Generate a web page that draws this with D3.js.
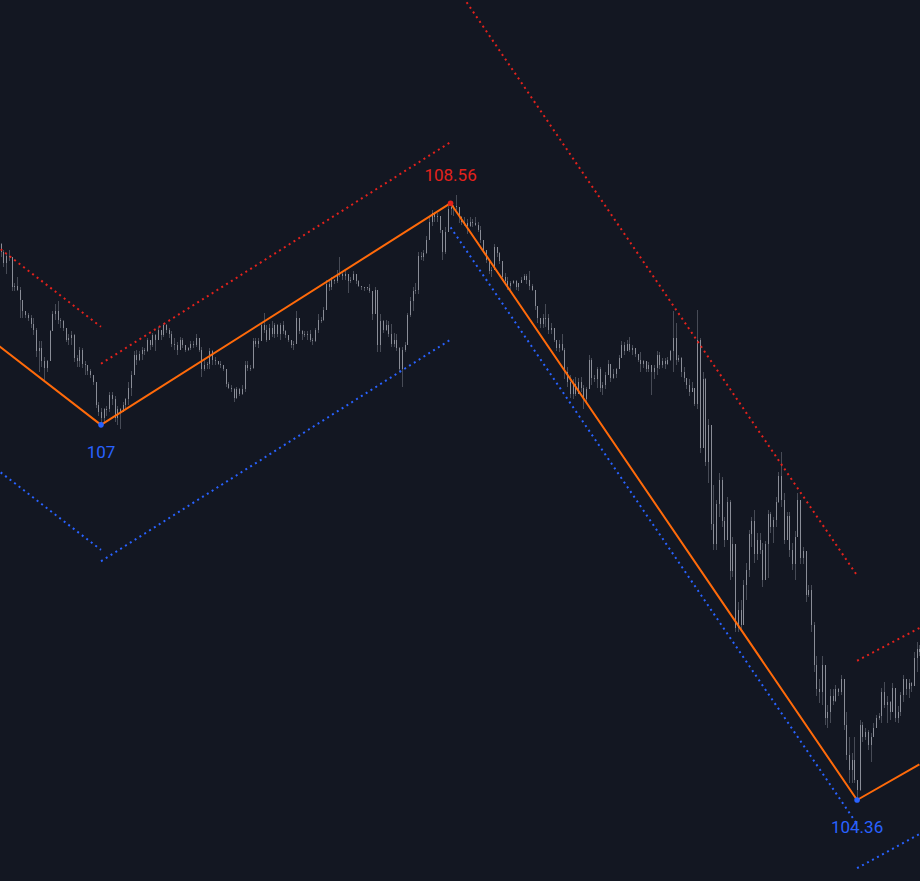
<!DOCTYPE html>
<html><head><meta charset="utf-8">
<script src="https://cdn.jsdelivr.net/npm/d3@7"></script>
<style>html,body{margin:0;padding:0;background:#131722;overflow:hidden}</style>
</head><body><svg id="chart" width="920" height="881"></svg>
<script>
// ---------- DATA ----------
const firstOpen = 108.27;
const highs = [
108.28,108.23,108.21,108.23,108.18,108.00,108.04,107.97,107.86,107.80,
107.79,107.77,107.75,107.68,107.59,107.59,107.48,107.46,107.67,107.80,
107.85,107.87,107.75,107.74,107.68,107.64,107.66,107.64,107.49,107.55,
107.54,107.45,107.42,107.39,107.35,107.30,107.16,107.12,107.12,107.13,
107.23,107.23,107.20,107.13,107.12,107.16,107.19,107.30,107.38,107.52,
107.53,107.52,107.55,107.54,107.61,107.60,107.65,107.64,107.69,107.67,
107.72,107.71,107.68,107.66,107.61,107.58,107.62,107.61,107.56,107.55,
107.59,107.59,107.64,107.61,107.55,107.46,107.44,107.54,107.53,107.48,
107.45,107.45,107.42,107.39,107.30,107.28,107.26,107.27,107.26,107.28,
107.45,107.45,107.42,107.61,107.61,107.61,107.72,107.79,107.70,107.71,
107.73,107.72,107.71,107.72,107.73,107.67,107.63,107.60,107.59,107.80,
107.75,107.67,107.66,107.66,107.67,107.61,107.68,107.78,107.76,107.83,
108.02,108.02,108.04,108.03,108.09,108.18,108.08,108.08,108.06,108.04,
108.08,108.06,108.02,107.98,107.97,107.97,107.99,107.94,107.97,107.95,
107.78,107.74,107.74,107.73,107.71,107.65,107.64,107.55,107.55,107.58,
107.79,107.90,107.97,108.00,108.22,108.22,108.23,108.33,108.46,108.51,
108.50,108.49,108.47,108.37,108.39,108.54,108.56,108.55,108.62,108.53,
108.47,108.46,108.45,108.46,108.45,108.46,108.43,108.40,108.30,108.23,
108.16,108.11,108.27,108.25,108.22,108.15,108.07,108.04,108.01,108.02,
108.02,108.00,108.04,108.06,108.06,108.08,107.99,107.95,107.84,107.75,
107.78,107.85,107.78,107.72,107.68,107.60,107.60,107.64,107.54,107.41,
107.35,107.32,107.34,107.33,107.34,107.28,107.27,107.49,107.47,107.35,
107.41,107.41,107.30,107.37,107.46,107.43,107.39,107.40,107.49,107.59,
107.58,107.60,107.62,107.56,107.54,107.50,107.51,107.46,107.45,107.44,
107.42,107.42,107.52,107.51,107.47,107.47,107.48,107.53,107.80,107.72,
107.49,107.48,107.41,107.30,107.32,107.30,107.26,107.81,107.61,107.37,
107.33,107.04,107.00,106.58,106.47,106.66,106.63,106.35,106.49,106.47,
106.21,106.16,105.75,105.77,105.91,106.03,106.26,106.35,106.40,106.24,
106.24,106.17,106.18,106.40,106.39,106.35,106.49,106.67,106.81,106.52,
106.39,106.39,106.17,106.25,106.52,106.47,106.14,106.11,105.87,105.87,
105.61,105.37,105.21,105.37,105.31,105.03,105.14,105.14,105.17,105.15,
105.24,105.21,104.98,104.80,104.69,104.80,104.50,104.92,104.91,104.87,
104.85,104.83,104.90,104.96,104.97,105.15,105.19,105.09,105.06,105.18,
105.15,105.02,105.12,105.24,105.21,105.21,105.19,105.40,105.47,105.45
];
const lows = [
108.18,108.11,108.06,108.15,107.94,107.94,107.94,107.75,107.75,107.75,
107.73,107.68,107.63,107.48,107.37,107.41,107.30,107.37,107.45,107.66,
107.74,107.71,107.68,107.66,107.58,107.56,107.56,107.44,107.41,107.41,
107.40,107.35,107.35,107.33,107.28,107.12,107.06,107.00,107.02,107.06,
107.09,107.14,107.02,107.00,106.97,107.09,107.11,107.14,107.20,107.36,
107.42,107.45,107.46,107.49,107.51,107.53,107.55,107.52,107.60,107.60,
107.62,107.65,107.61,107.55,107.53,107.49,107.53,107.54,107.51,107.52,
107.53,107.54,107.55,107.51,107.34,107.38,107.39,107.39,107.42,107.42,
107.42,107.40,107.38,107.27,107.25,107.23,107.16,107.18,107.20,107.21,
107.23,107.38,107.38,107.39,107.55,107.54,107.60,107.65,107.58,107.60,
107.62,107.61,107.62,107.60,107.64,107.61,107.58,107.54,107.53,107.57,
107.64,107.60,107.62,107.60,107.58,107.56,107.58,107.65,107.72,107.73,
107.81,107.94,107.95,107.99,108.00,108.04,108.02,108.02,107.93,108.00,
108.02,107.99,107.97,107.95,107.94,107.95,107.93,107.74,107.78,107.51,
107.51,107.65,107.66,107.62,107.55,107.55,107.52,107.37,107.27,107.51,
107.67,107.76,107.80,107.92,107.92,108.16,108.15,108.20,108.30,108.40,
108.43,108.43,108.35,108.16,108.20,108.36,108.48,108.47,108.51,108.42,
108.41,108.40,108.34,108.39,108.39,108.40,108.36,108.28,108.21,108.14,
108.06,108.04,108.09,108.18,108.13,108.01,107.99,107.95,107.95,107.99,
107.95,107.94,108.00,108.02,107.99,107.95,107.94,107.81,107.72,107.68,
107.68,107.69,107.64,107.64,107.58,107.52,107.51,107.52,107.32,107.27,
107.19,107.18,107.20,107.22,107.23,107.11,107.16,107.25,107.28,107.30,
107.26,107.23,107.21,107.25,107.35,107.30,107.32,107.33,107.39,107.47,
107.49,107.52,107.51,107.49,107.48,107.44,107.37,107.40,107.37,107.37,
107.21,107.32,107.35,107.39,107.40,107.39,107.42,107.45,107.37,107.42,
107.44,107.34,107.30,107.25,107.20,107.23,107.13,107.11,106.80,106.84,
106.71,106.59,106.26,106.12,106.12,106.35,106.28,106.14,106.19,105.91,
105.93,105.54,105.54,105.54,105.59,105.77,105.93,106.14,106.03,106.05,
106.09,105.86,105.91,105.92,106.24,106.17,106.28,106.45,106.42,106.16,
106.19,106.07,105.98,105.91,106.21,106.02,106.02,105.75,105.79,105.54,
105.26,105.09,105.04,105.03,104.89,104.87,104.90,105.03,105.05,105.09,
105.10,104.85,104.64,104.48,104.48,104.48,104.36,104.42,104.77,104.78,
104.71,104.63,104.80,104.87,104.92,104.90,105.01,104.90,104.92,104.98,
104.91,104.90,104.95,105.05,105.10,105.08,105.12,105.16,105.26,105.37
];
const closes = [
108.22,108.14,108.19,108.18,107.97,107.98,107.95,107.88,107.80,107.77,
107.75,107.71,107.67,107.52,107.54,107.45,107.40,107.45,107.66,107.78,
107.80,107.74,107.73,107.68,107.60,107.61,107.63,107.47,107.45,107.53,
107.43,107.42,107.38,107.35,107.30,107.14,107.09,107.05,107.11,107.11,
107.21,107.18,107.05,107.11,107.09,107.14,107.18,107.26,107.35,107.49,
107.46,107.50,107.53,107.52,107.60,107.56,107.63,107.60,107.67,107.63,
107.70,107.67,107.64,107.57,107.56,107.53,107.60,107.56,107.53,107.54,
107.57,107.56,107.61,107.53,107.39,107.42,107.43,107.52,107.46,107.45,
107.43,107.42,107.39,107.29,107.26,107.25,107.19,107.25,107.22,107.25,
107.42,107.40,107.40,107.59,107.57,107.59,107.70,107.67,107.60,107.68,
107.64,107.70,107.64,107.70,107.66,107.63,107.60,107.56,107.57,107.75,
107.66,107.64,107.63,107.64,107.60,107.59,107.67,107.74,107.74,107.81,
107.99,107.97,108.02,108.01,108.06,108.06,108.05,108.06,108.01,108.02,
108.06,108.01,107.98,107.97,107.97,107.96,107.94,107.78,107.95,107.56,
107.73,107.67,107.70,107.64,107.57,107.60,107.54,107.39,107.53,107.56,
107.77,107.87,107.94,107.95,108.19,108.18,108.21,108.30,108.43,108.49,
108.46,108.47,108.37,108.22,108.36,108.52,108.53,108.54,108.53,108.46,
108.43,108.42,108.40,108.43,108.42,108.41,108.37,108.30,108.23,108.16,
108.08,108.09,108.25,108.21,108.15,108.04,108.01,107.98,108.00,108.01,
107.97,108.00,108.02,108.05,108.02,107.98,107.95,107.84,107.75,107.71,
107.75,107.75,107.67,107.68,107.60,107.54,107.57,107.53,107.37,107.30,
107.22,107.29,107.22,107.30,107.26,107.18,107.25,107.46,107.33,107.32,
107.39,107.26,107.28,107.35,107.43,107.33,107.36,107.39,107.47,107.56,
107.52,107.57,107.53,107.54,107.50,107.46,107.43,107.45,107.39,107.42,
107.37,107.40,107.49,107.42,107.45,107.43,107.46,107.52,107.61,107.46,
107.47,107.37,107.33,107.28,107.23,107.26,107.15,107.60,106.84,107.32,
106.74,107.00,106.30,106.16,106.44,106.61,106.32,106.19,106.46,105.97,
106.16,105.57,105.70,105.59,105.87,105.98,106.23,106.32,106.09,106.19,
106.12,105.91,106.16,106.37,106.28,106.33,106.46,106.64,106.47,106.19,
106.36,106.12,106.02,106.21,106.47,106.06,106.11,105.80,105.84,105.59,
105.31,105.14,105.12,105.31,104.94,104.98,105.09,105.06,105.14,105.12,
105.21,104.89,104.68,104.57,104.64,104.50,104.43,104.89,104.80,104.84,
104.75,104.80,104.87,104.94,104.95,105.12,105.03,105.05,104.98,105.15,
104.94,104.98,105.10,105.21,105.14,105.18,105.16,105.36,105.42,105.40
];
// zigzag pivots (bar index, price)
const pivotIndex = [-20, 37, 166, 316, 339];
const pivotPrice = [107.84, 107.00, 108.56, 104.36, 104.61];
// channels drawn along each zigzag leg
const legStart  = [-20, 37, 166, 316];
const legEnd    = [37, 166, 316, 339];
const upperFrom = [108.53, 107.43, 110.14, 105.34];
const upperTo   = [107.69, 108.99, 105.94, 105.57];
const lowerFrom = [106.96, 106.04, 108.39, 103.88];
const lowerTo   = [106.12, 107.60, 104.19, 104.12];
// pivot labels
const labelIndex = [37, 166, 316];
const labelPrice = [107.00, 108.56, 104.36];
const labelText  = ["107", "108.56", "104.36"];
const labelKind  = ["low", "high", "low"];

// ---------- DRAW ----------
const W = 920, H = 881;
const BG = "#131722", WICK = "#474b56", BODY = "#8a8d97";
const ORANGE = "#ff6a0a", RED = "#e3221c", BLUE = "#2962ff";

const x = d3.scaleLinear().domain([0, 339]).range([0.73, 919.4]);
const y = d3.scaleLinear().domain([103.79, 109.99]).range([H, 0]);

const svg = d3.select("#chart");
svg.append("rect").attr("width", W).attr("height", H).attr("fill", BG);

const n = Math.min(highs.length, lows.length, closes.length);
const candles = d3.range(n).map(i => ({
  i, o: i ? closes[i - 1] : firstOpen, h: highs[i], l: lows[i], c: closes[i]
}));
const px = i => Math.round(x(i)) + 0.5;

const gC = svg.append("g").attr("shape-rendering", "crispEdges");
gC.selectAll("line.wick").data(candles).join("line").attr("class", "wick")
  .attr("x1", d => px(d.i)).attr("x2", d => px(d.i))
  .attr("y1", d => y(d.h)).attr("y2", d => y(d.l))
  .attr("stroke", WICK).attr("stroke-width", 1);
gC.selectAll("line.body").data(candles).join("line").attr("class", "body")
  .attr("x1", d => px(d.i)).attr("x2", d => px(d.i))
  .attr("y1", d => y(Math.max(d.o, d.c)))
  .attr("y2", d => Math.max(y(Math.min(d.o, d.c)), y(Math.max(d.o, d.c)) + 1))
  .attr("stroke", BODY).attr("stroke-width", 1);

// channels
const legs = legStart.map((s, k) => ({ s, e: legEnd[k], uf: upperFrom[k], ut: upperTo[k], lf: lowerFrom[k], lt: lowerTo[k] }));
const gCh = svg.append("g");
gCh.selectAll("line.up").data(legs).join("line")
  .attr("x1", d => x(d.s)).attr("x2", d => x(d.e))
  .attr("y1", d => y(d.uf)).attr("y2", d => y(d.ut))
  .attr("stroke", RED).attr("stroke-width", 2).attr("stroke-dasharray", "2 3.7");
gCh.selectAll("line.dn").data(legs).join("line")
  .attr("x1", d => x(d.s)).attr("x2", d => x(d.e))
  .attr("y1", d => y(d.lf)).attr("y2", d => y(d.lt))
  .attr("stroke", BLUE).attr("stroke-width", 2).attr("stroke-dasharray", "2 3.7");

// zigzag
const zz = pivotIndex.map((i, k) => [i, pivotPrice[k]]);
svg.append("path").datum(zz)
  .attr("d", d3.line().x(d => x(d[0])).y(d => y(d[1])))
  .attr("fill", "none").attr("stroke", ORANGE).attr("stroke-width", 2)
  .attr("stroke-linejoin", "round");

// pivot markers and labels
const labels = labelIndex.map((i, k) => ({ i, p: labelPrice[k], t: labelText[k], kind: labelKind[k] }));
svg.selectAll("circle.piv").data(labels).join("circle")
  .attr("cx", d => x(d.i)).attr("cy", d => y(d.p)).attr("r", 2.8)
  .attr("fill", d => d.kind === "high" ? RED : BLUE);
svg.selectAll("text.lbl").data(labels).join("text")
  .attr("x", d => x(d.i))
  .attr("y", d => d.kind === "high" ? y(d.p) - 22 : y(d.p) + 33)
  .attr("text-anchor", "middle")
  .attr("font-family", "Roboto, 'Noto Sans', sans-serif")
  .attr("font-size", 17)
  .attr("fill", d => d.kind === "high" ? RED : BLUE)
  .text(d => d.t);
</script>
</body></html>
